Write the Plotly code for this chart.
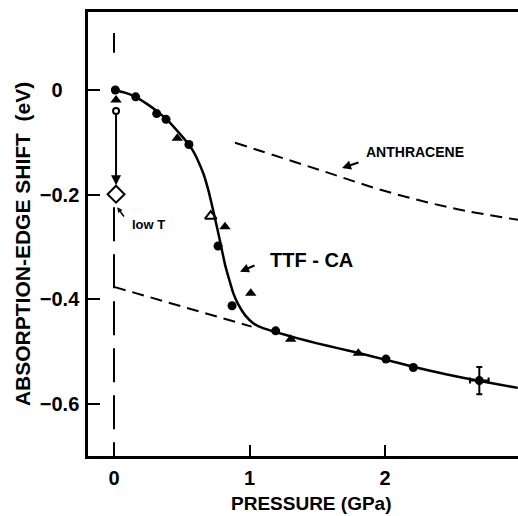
import plotly.graph_objects as go

# ---- data ----
# TTF-CA, filled circles
circ_x = [0.01, 0.16, 0.315, 0.384, 0.553, 0.768, 0.871, 1.193, 2.007, 2.209]
circ_y = [0.0, -0.013, -0.045, -0.056, -0.104, -0.298, -0.412, -0.460, -0.514, -0.530]
# TTF-CA, filled triangles
tri_x = [0.015, 0.467, 0.819, 1.009, 1.304, 1.803]
tri_y = [-0.019, -0.092, -0.261, -0.388, -0.476, -0.503]
# open triangle
otri_x = [0.714]
otri_y = [-0.241]
# open small circle and low-T diamond at P = 0
ocirc_x = [0.015]
ocirc_y = [-0.040]
diam_x = [0.015]
diam_y = [-0.199]
# point with error bars
err_x = [2.696]
err_y = [-0.555]
err_dx = [0.069]
err_dy = [0.026]

# fitted TTF-CA curve
curve_x = [0.0, 0.08, 0.16, 0.24, 0.32, 0.40, 0.47, 0.53, 0.58, 0.62, 0.66, 0.70,
           0.73, 0.76, 0.79, 0.82, 0.85, 0.88, 0.92, 0.97, 1.03, 1.10, 1.20, 1.35,
           1.50, 1.65, 1.80, 2.00, 2.20, 2.45, 2.70, 2.98]
curve_y = [0.0, -0.005, -0.013, -0.026, -0.041, -0.059, -0.079, -0.097, -0.115,
           -0.135, -0.160, -0.195, -0.228, -0.262, -0.298, -0.334, -0.362, -0.388,
           -0.411, -0.431, -0.446, -0.455, -0.463, -0.474, -0.484, -0.493, -0.502,
           -0.515, -0.528, -0.543, -0.556, -0.569]

# anthracene (dashed)
anth_x = [0.893, 1.52, 2.013, 2.504, 2.982]
anth_y = [-0.1007, -0.153, -0.194, -0.226, -0.248]

# extrapolated low branch (dashed)
low_x = [0.0, 1.016]
low_y = [-0.376, -0.452]

# vertical dashed marker at P = 0
vtop_x = [0.0, 0.0]
vtop_y = [0.109, 0.071]
vbot_x = [0.0, 0.0]
vbot_y = [-0.224, -0.699]

xticks = [0, 1, 2]
xtick_text = ["0", "1", "2"]
yticks = [0, -0.2, -0.4, -0.6]
ytick_text = ["0\u2008\u2007", "\u22120.2", "\u22120.4", "\u22120.6"]

FONT = "Liberation Sans, Arial, sans-serif"
BLK = "black"

fig = go.Figure()

fig.add_trace(go.Scatter(x=vtop_x, y=vtop_y, mode="lines",
                         line=dict(color=BLK, width=2), hoverinfo="skip"))
fig.add_trace(go.Scatter(x=vbot_x, y=vbot_y, mode="lines",
                         line=dict(color=BLK, width=2, dash="34px,13px"), hoverinfo="skip"))
fig.add_trace(go.Scatter(x=anth_x, y=anth_y, mode="lines",
                         line=dict(color=BLK, width=2, dash="12px,7px", shape="spline"),
                         hoverinfo="skip"))
fig.add_trace(go.Scatter(x=low_x, y=low_y, mode="lines",
                         line=dict(color=BLK, width=2, dash="12px,7px"), hoverinfo="skip"))
fig.add_trace(go.Scatter(x=curve_x, y=curve_y, mode="lines",
                         line=dict(color=BLK, width=2.5, shape="spline", smoothing=0.5),
                         hoverinfo="skip"))
fig.add_trace(go.Scatter(x=circ_x, y=circ_y, mode="markers",
                         marker=dict(symbol="circle", size=9, color=BLK)))
fig.add_trace(go.Scatter(x=tri_x, y=tri_y, mode="markers",
                         marker=dict(symbol="triangle-up", size=10, color=BLK)))
fig.add_trace(go.Scatter(x=otri_x, y=otri_y, mode="markers",
                         marker=dict(symbol="triangle-up-open", size=10, color=BLK,
                                     line=dict(width=2))))
fig.add_trace(go.Scatter(x=ocirc_x, y=ocirc_y, mode="markers",
                         marker=dict(symbol="circle-open", size=6, color=BLK,
                                     line=dict(width=2))))
fig.add_trace(go.Scatter(x=diam_x, y=diam_y, mode="markers",
                         marker=dict(symbol="diamond-open", size=13, color=BLK,
                                     line=dict(width=2))))
fig.add_trace(go.Scatter(x=err_x, y=err_y, mode="markers",
                         marker=dict(symbol="circle", size=9, color=BLK),
                         error_x=dict(type="data", array=err_dx, color=BLK, thickness=2, width=3),
                         error_y=dict(type="data", array=err_dy, color=BLK, thickness=2, width=3)))

# vertical arrow from open circle down to the diamond
fig.add_annotation(x=0.015, y=-0.182, ax=0.015, ay=-0.045, xref="x", yref="y",
                   axref="x", ayref="y", text="", showarrow=True,
                   arrowhead=2, arrowsize=1.0, arrowwidth=2, arrowcolor=BLK)
# low T
fig.add_annotation(x=0.251, y=-0.256, xref="x", yref="y", text="low T", showarrow=False,
                   font=dict(family=FONT, size=13, color=BLK, weight="bold"))
fig.add_annotation(x=0.024, y=-0.224, ax=0.081, ay=-0.2445, xref="x", yref="y",
                   axref="x", ayref="y", text="", showarrow=True,
                   arrowhead=2, arrowsize=0.7, arrowwidth=1.5, arrowcolor=BLK)
# ANTHRACENE
fig.add_annotation(x=2.221, y=-0.119, xref="x", yref="y", text="ANTHRACENE", showarrow=False,
                   font=dict(family=FONT, size=14, color=BLK, weight="bold"))
fig.add_annotation(x=1.683, y=-0.149, ax=1.815, ay=-0.1375, xref="x", yref="y",
                   axref="x", ayref="y", text="", showarrow=True,
                   arrowhead=2, arrowsize=0.9, arrowwidth=2, arrowcolor=BLK)
# TTF-CA
fig.add_annotation(x=1.461, y=-0.325, xref="x", yref="y", text="TTF - CA", showarrow=False,
                   font=dict(family=FONT, size=20, color=BLK, weight="bold"))
fig.add_annotation(x=0.930, y=-0.347, ax=1.048, ay=-0.334, xref="x", yref="y",
                   axref="x", ayref="y", text="", showarrow=True,
                   arrowhead=2, arrowsize=0.9, arrowwidth=2, arrowcolor=BLK)

# axis titles
fig.add_annotation(x=0.5186, y=-0.108, xref="paper", yref="paper", text="PRESSURE (GPa)",
                   showarrow=False, xanchor="center", yanchor="middle",
                   font=dict(family=FONT, size=19, color=BLK, weight="bold"))
fig.add_annotation(x=-0.151, y=0.4775, xref="paper", yref="paper",
                   text="ABSORPTION-EDGE SHIFT  (eV)", textangle=-90,
                   showarrow=False, xanchor="center", yanchor="middle",
                   font=dict(family=FONT, size=21, color=BLK, weight="bold"))

fig.update_layout(
    width=518, height=516,
    margin=dict(l=88, r=0, t=12, b=60),
    paper_bgcolor="white", plot_bgcolor="white",
    showlegend=False,
    font=dict(family=FONT, color=BLK, size=20, weight="bold"),
)
fig.update_xaxes(range=[-0.1919, 2.9815], tickvals=xticks, ticktext=xtick_text,
                 ticks="inside", ticklen=11, tickwidth=2, tickcolor=BLK,
                 showline=True, linewidth=2.5, linecolor=BLK, mirror=True,
                 showgrid=False, zeroline=False, ticklabelstandoff=2,
                 tickfont=dict(family=FONT, size=20, color=BLK, weight="bold"))
fig.update_yaxes(range=[-0.6991, 0.149], tickvals=yticks, ticktext=ytick_text,
                 ticks="inside", ticklen=12, tickwidth=2, tickcolor=BLK,
                 showline=True, linewidth=2.5, linecolor=BLK, mirror=False,
                 showgrid=False, zeroline=False, ticklabelstandoff=2,
                 tickfont=dict(family=FONT, size=20, color=BLK, weight="bold"))

fig.write_html("out.html")
